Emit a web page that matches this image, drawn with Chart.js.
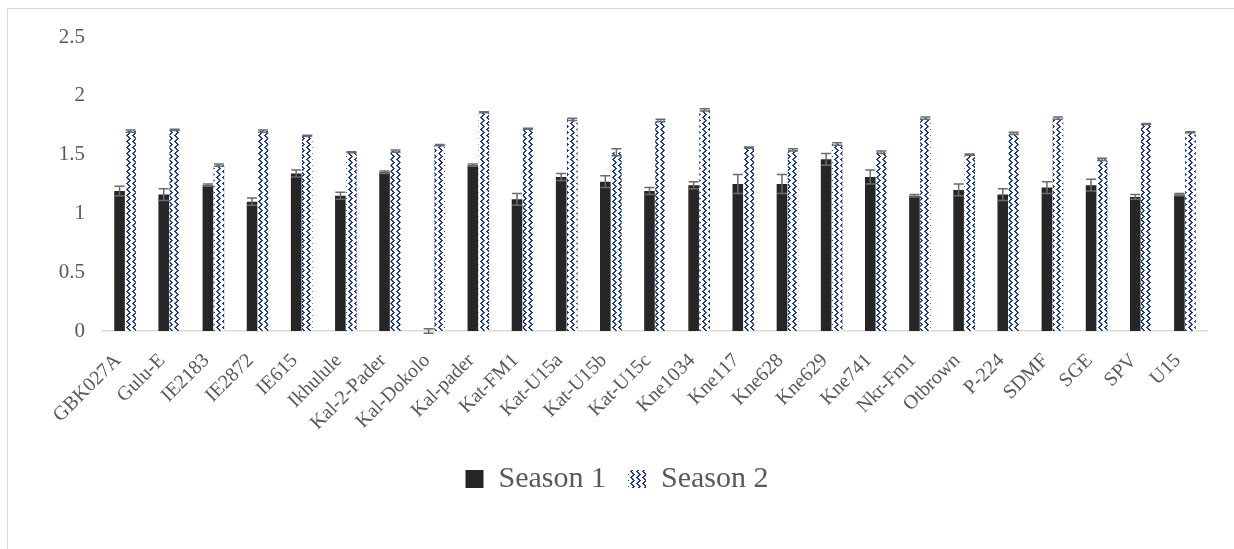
<!DOCTYPE html>
<html>
<head>
<meta charset="utf-8">
<script src="https://cdn.jsdelivr.net/npm/chart.js@4/dist/chart.umd.min.js"></script>
<style>
  html, body { margin: 0; padding: 0; background: #ffffff; overflow: hidden; }
  #frame {
    position: absolute; left: 7px; top: 8px; width: 1300px; height: 700px;
    border: 1px solid #d9d9d9; box-sizing: border-box;
  }
  #wrap { position: absolute; left: 0; top: 0; width: 1234px; height: 549px; }
</style>
</head>
<body>
<div id="frame"></div>
<div id="wrap"><canvas id="chart"></canvas></div>
<script>
// Genotypes on the x axis
const genotypes = [
  'GBK027A', 'Gulu-E', 'IE2183', 'IE2872', 'IE615', 'Ikhulule', 'Kal-2-Pader',
  'Kal-Dokolo', 'Kal-pader', 'Kat-FM1', 'Kat-U15a', 'Kat-U15b', 'Kat-U15c',
  'Kne1034', 'Kne117', 'Kne628', 'Kne629', 'Kne741', 'Nkr-Fm1', 'Otbrown',
  'P-224', 'SDMF', 'SGE', 'SPV', 'U15'
];

// Season 1 means and standard errors
const season1 = [
  1.19, 1.16, 1.24, 1.10, 1.34, 1.15, 1.35,
  0.00, 1.41, 1.12, 1.31, 1.27, 1.19,
  1.24, 1.25, 1.25, 1.46, 1.31, 1.15, 1.20,
  1.16, 1.22, 1.24, 1.14, 1.16
];
const season1Err = [
  0.04, 0.05, 0.01, 0.03, 0.03, 0.03, 0.01,
  0.02, 0.01, 0.05, 0.03, 0.05, 0.03,
  0.03, 0.08, 0.08, 0.05, 0.06, 0.01, 0.05,
  0.05, 0.05, 0.05, 0.02, 0.01
];

// Season 2 means and standard errors
const season2 = [
  1.70, 1.71, 1.41, 1.70, 1.66, 1.52, 1.53,
  1.58, 1.86, 1.72, 1.80, 1.52, 1.79,
  1.88, 1.56, 1.54, 1.59, 1.52, 1.81, 1.50,
  1.68, 1.81, 1.46, 1.76, 1.69
];
const season2Err = [
  0.01, 0.005, 0.01, 0.01, 0.005, 0.005, 0.01,
  0.005, 0.005, 0.005, 0.01, 0.03, 0.01,
  0.01, 0.005, 0.01, 0.01, 0.01, 0.01, 0.005,
  0.01, 0.01, 0.01, 0.005, 0.005
];

const FONT = "'Liberation Serif', 'Times New Roman', serif";
const TEXT = '#595959';

// Dotted zig-zag fill used for the Season 2 bars
function makePattern() {
  const tile = [
    '...XX.',
    '..XX..',
    '.XX...',
    'XX....',
    '.XX...',
    '..XX..'
  ];
  const c = document.createElement('canvas');
  c.width = 6; c.height = 6;
  const g = c.getContext('2d');
  g.fillStyle = '#ffffff';
  g.fillRect(0, 0, 6, 6);
  g.fillStyle = '#213c7b';
  tile.forEach((row, y) => {
    [...row].forEach((ch, x) => { if (ch === 'X') g.fillRect(x, y, 1, 1); });
  });
  return document.createElement('canvas').getContext('2d').createPattern(c, 'repeat');
}

// Symmetric error bars drawn at each bar's centre
const errorBars = {
  id: 'errorBars',
  afterDatasetsDraw(chart) {
    const ctx = chart.ctx;
    const yScale = chart.scales.y;
    chart.data.datasets.forEach((ds, i) => {
      const meta = chart.getDatasetMeta(i);
      const errs = i === 0 ? season1Err : season2Err;
      meta.data.forEach((bar, j) => {
        const v = ds.data[j];
        const e = errs[j];
        const top = yScale.getPixelForValue(v + e);
        const bot = yScale.getPixelForValue(v - e);
        const x = bar.x;
        ctx.save();
        ctx.strokeStyle = '#6b6b6b';
        ctx.lineWidth = 1.5;
        ctx.beginPath();
        ctx.moveTo(x, top); ctx.lineTo(x, bot);
        ctx.moveTo(x - 5, top); ctx.lineTo(x + 5, top);
        ctx.moveTo(x - 5, bot); ctx.lineTo(x + 5, bot);
        ctx.stroke();
        ctx.restore();
      });
    });
  }
};

new Chart(document.getElementById('chart'), {
  type: 'bar',
  data: {
    labels: genotypes,
    datasets: [
      {
        label: 'Season 1',
        data: season1,
        backgroundColor: '#262626',
        borderWidth: 0,
        categoryPercentage: 0.5,
        barPercentage: 0.96
      },
      {
        label: 'Season 2',
        data: season2,
        backgroundColor: makePattern(),
        borderWidth: 0,
        categoryPercentage: 0.5,
        barPercentage: 0.96
      }
    ]
  },
  options: {
    responsive: true,
    maintainAspectRatio: false,
    animation: false,
    devicePixelRatio: 1,
    layout: { padding: { left: 0, right: 0, top: 37, bottom: 45 } },
    scales: {
      x: {
        grid: { display: false, drawTicks: false },
        border: { display: true, color: '#d9d9d9', width: 1.5 },
        ticks: {
          color: TEXT,
          font: { family: FONT, size: 20 },
          minRotation: 45,
          maxRotation: 45,
          autoSkip: false,
          padding: 18,
          labelOffset: -7
        },
        afterFit(scale) { scale.height = 111; }
      },
      y: {
        min: 0,
        max: 2.5,
        grid: { display: false, drawTicks: false },
        border: { display: false },
        ticks: {
          stepSize: 0.5,
          color: TEXT,
          font: { family: FONT, size: 21 },
          padding: 18,
          callback: (v) => String(v)
        },
        afterFit(scale) { scale.width = 103; }
      },
      // empty right-hand margin so the legend stays centred on the page
      yRight: {
        position: 'right',
        min: 0,
        max: 2.5,
        grid: { display: false, drawTicks: false },
        border: { display: false },
        ticks: { display: false },
        afterFit(scale) { scale.width = 27; }
      }
    },
    plugins: {
      legend: {
        position: 'bottom',
        labels: {
          color: TEXT,
          font: { family: FONT, size: 30 },
          boxWidth: 18,
          boxHeight: 18,
          padding: 22
        }
      },
      tooltip: { enabled: false }
    }
  },
  plugins: [errorBars]
});
</script>
</body>
</html>
